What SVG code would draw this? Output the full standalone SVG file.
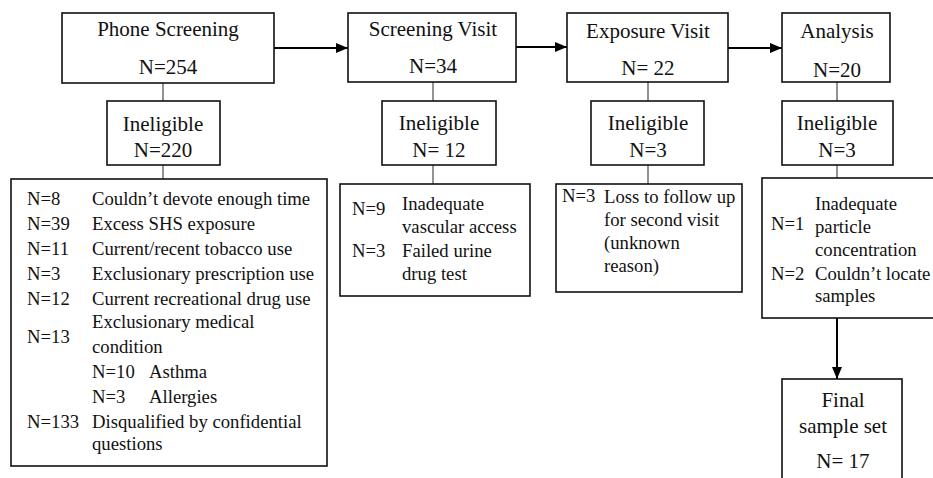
<svg xmlns="http://www.w3.org/2000/svg" width="933" height="478" viewBox="0 0 933 478">
<defs>
<marker id="ah" markerWidth="12" markerHeight="10" refX="12" refY="5" orient="auto" markerUnits="userSpaceOnUse">
<path d="M0,0 L12,5 L0,10 Z" fill="#000"/>
</marker>
<style>
.box{fill:#fff;stroke:#111;stroke-width:1.6}
.t{font-family:'Liberation Serif','Times New Roman',Tinos,'Noto Serif','DejaVu Serif',serif;font-size:21px;fill:#111;text-anchor:middle}
.l{font-family:'Liberation Serif','Times New Roman',Tinos,'Noto Serif','DejaVu Serif',serif;font-size:18.7px;fill:#111}
.c{stroke:#777;stroke-width:1.6;fill:none}
.a{stroke:#000;stroke-width:2;fill:none;marker-end:url(#ah)}
</style>
</defs>
<rect width="933" height="478" fill="#fff"/>
<g id="connectors">
<line class="c" x1="163" y1="83" x2="163" y2="101"/>
<line class="c" x1="163" y1="165" x2="163" y2="179"/>
<line class="c" x1="433" y1="82" x2="433" y2="101"/>
<line class="c" x1="433" y1="165" x2="433" y2="184"/>
<line class="c" x1="648" y1="82" x2="648" y2="101"/>
<line class="c" x1="648" y1="165" x2="648" y2="184"/>
<line class="c" x1="837" y1="82" x2="837" y2="101"/>
<line class="c" x1="837" y1="165" x2="837" y2="178"/>
<line class="a" x1="274" y1="48" x2="348" y2="48"/>
<line class="a" x1="516" y1="47" x2="567" y2="47"/>
<line class="a" x1="728" y1="48" x2="782" y2="48"/>
<line class="a" x1="837" y1="318" x2="837" y2="379"/>
</g>
<g id="phone-screening">
<rect class="box" x="62" y="13" width="212" height="70"/>
<text class="t" x="168" y="36">Phone Screening</text>
<text class="t" x="168" y="74">N=254</text>
</g>
<g id="phone-ineligible">
<rect class="box" x="107" y="101" width="113" height="64"/>
<text class="t" x="163" y="131">Ineligible</text>
<text class="t" x="163" y="157">N=220</text>
</g>
<g id="phone-reasons">
<rect class="box" x="11" y="179" width="316" height="287"/>
<text class="l" x="27" y="205">N=8</text><text class="l" x="92" y="205">Couldn’t devote enough time</text>
<text class="l" x="27" y="230">N=39</text><text class="l" x="92" y="230">Excess SHS exposure</text>
<text class="l" x="27" y="255">N=11</text><text class="l" x="92" y="255">Current/recent tobacco use</text>
<text class="l" x="27" y="280">N=3</text><text class="l" x="92" y="280">Exclusionary prescription use</text>
<text class="l" x="27" y="305">N=12</text><text class="l" x="92" y="305">Current recreational drug use</text>
<text class="l" x="92" y="328">Exclusionary medical</text>
<text class="l" x="27" y="343">N=13</text>
<text class="l" x="92" y="353">condition</text>
<text class="l" x="92" y="378">N=10</text><text class="l" x="149" y="378">Asthma</text>
<text class="l" x="92" y="403">N=3</text><text class="l" x="149" y="403">Allergies</text>
<text class="l" x="27" y="428">N=133</text><text class="l" x="92" y="428">Disqualified by confidential</text>
<text class="l" x="92" y="450">questions</text>
</g>
<g id="screening-visit">
<rect class="box" x="348" y="13" width="168" height="69"/>
<text class="t" x="433" y="36">Screening Visit</text>
<text class="t" x="433" y="73">N=34</text>
</g>
<g id="screening-ineligible">
<rect class="box" x="382" y="101" width="114" height="64"/>
<text class="t" x="439" y="130">Ineligible</text>
<text class="t" x="439" y="157">N= 12</text>
</g>
<g id="screening-reasons">
<rect class="box" x="340" y="184" width="190" height="112"/>
<text class="l" x="352" y="215">N=9</text><text class="l" x="402" y="210">Inadequate</text>
<text class="l" x="402" y="233">vascular access</text>
<text class="l" x="352" y="257">N=3</text><text class="l" x="402" y="257">Failed urine</text>
<text class="l" x="402" y="280">drug test</text>
</g>
<g id="exposure-visit">
<rect class="box" x="567" y="13" width="161" height="69"/>
<text class="t" x="648" y="38">Exposure Visit</text>
<text class="t" x="648" y="75">N= 22</text>
</g>
<g id="exposure-ineligible">
<rect class="box" x="591" y="101" width="113" height="64"/>
<text class="t" x="648" y="130">Ineligible</text>
<text class="t" x="648" y="157">N=3</text>
</g>
<g id="exposure-reasons">
<rect class="box" x="556" y="184" width="186" height="108"/>
<text class="l" x="562" y="202">N=3</text><text class="l" x="604" y="203">Loss to follow up</text>
<text class="l" x="604" y="226">for second visit</text>
<text class="l" x="604" y="249">(unknown</text>
<text class="l" x="604" y="272">reason)</text>
</g>
<g id="analysis">
<rect class="box" x="782" y="13" width="108" height="69"/>
<text class="t" x="837" y="38">Analysis</text>
<text class="t" x="837" y="77">N=20</text>
</g>
<g id="analysis-ineligible">
<rect class="box" x="782" y="101" width="111" height="64"/>
<text class="t" x="837" y="130">Ineligible</text>
<text class="t" x="837" y="157">N=3</text>
</g>
<g id="analysis-reasons">
<rect class="box" x="762" y="178" width="180" height="140"/>
<text class="l" x="771" y="230">N=1</text><text class="l" x="815" y="210">Inadequate</text>
<text class="l" x="815" y="233">particle</text>
<text class="l" x="815" y="256">concentration</text>
<text class="l" x="771" y="280">N=2</text><text class="l" x="815" y="280">Couldn’t locate</text>
<text class="l" x="815" y="302">samples</text>
</g>
<g id="final-sample">
<rect class="box" x="782" y="379" width="120" height="110"/>
<text class="t" x="843" y="407">Final</text>
<text class="t" x="843" y="433">sample set</text>
<text class="t" x="843" y="468">N= 17</text>
</g>
</svg>
